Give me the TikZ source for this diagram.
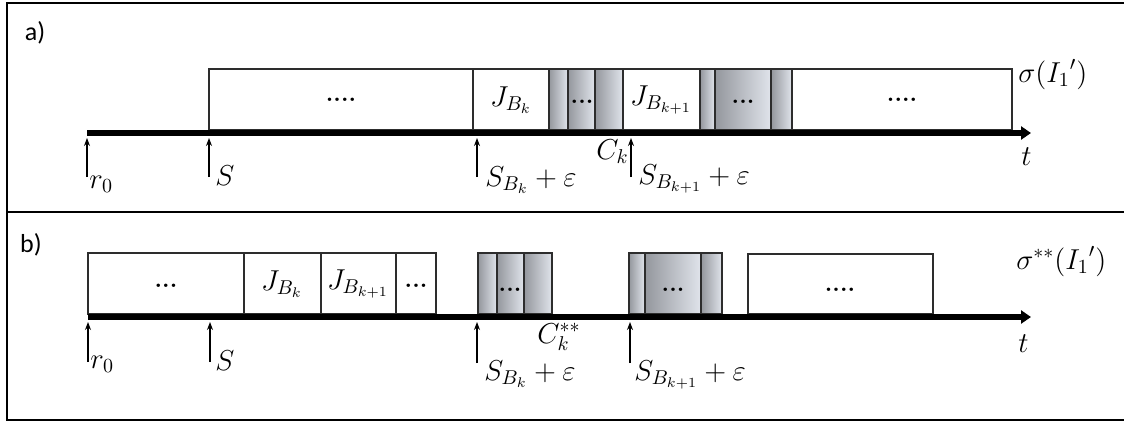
\documentclass[tikz,border=0pt]{standalone}
\usepackage{fontspec}
\newfontfamily\lblfont{Carlito}
\usetikzlibrary{arrows.meta}
\definecolor{shdark}{RGB}{148,151,157}
\definecolor{shlight}{RGB}{224,228,235}
\definecolor{edge}{RGB}{45,45,45}
\begin{document}
\begin{tikzpicture}[x=0.5pt,y=-0.5pt, font=\fontsize{14}{16}\selectfont,
  wbox/.style={draw=edge, line width=0.6pt, fill=white},
  gbox/.style={draw=edge, line width=0.6pt, left color=shdark, right color=shlight},
  timeaxis/.style={line width=3pt, -{Triangle[length=5pt,width=6.5pt]}},
  tickarrow/.style={line width=0.6pt, -{Stealth[length=4pt,width=3pt]}},
  lbl/.style={anchor=base west, inner sep=0pt},
  ctr/.style={inner sep=0pt},
  dots/.style={inner sep=0pt, font=\fontsize{12}{14}\selectfont},
  panel/.style={font=\lblfont\fontsize{13}{15}\selectfont, inner sep=0pt}]
\useasboundingbox (0,0) rectangle (1124,423);
\clip (0,0) rectangle (1124,423);
% frame
\draw[line width=1pt] (1130,3) -- (7,3) -- (7,420) -- (1130,420);
\draw[line width=0.9pt] (7,212) -- (1130,212);
\node[panel] (pa) at (35,33) {a)};
\node[panel] (pb) at (31,245) {b)};

% ---------------- panel a ----------------
\draw[wbox] (209,69) rectangle (473,130);
\node[dots] (a1) at (341,100) {\textbf{....}};
\draw[wbox] (473,69) rectangle (549,130);
\node[ctr] (a2) at (511,100) {$J_{B_k}$};
\draw[gbox] (549,69) rectangle (568,130);
\draw[gbox] (568,69) rectangle (595,130);
\node[dots] (a3) at (582,102) {\textbf{...}};
\draw[gbox] (595,69) rectangle (623,130);
\draw[wbox] (623,69) rectangle (700,130);
\node[ctr] (a4) at (661,100) {$J_{B_{k+1}}$};
\draw[gbox] (700,69) rectangle (715,130);
\draw[gbox] (715,69) rectangle (771,130);
\node[dots] (a5) at (743,102) {\textbf{...}};
\draw[gbox] (771,69) rectangle (792,130);
\draw[wbox] (792,69) rectangle (1012,130);
\node[dots] (a6) at (902,100) {\textbf{....}};

\coordinate (axa0) at (87,133);
\coordinate (axa1) at (1031,133);
\draw[timeaxis] (axa0) -- (axa1);

\coordinate (ra0) at (87,177);   \coordinate (ra1) at (87,138);
\coordinate (sa0) at (209,177);  \coordinate (sa1) at (209,138);
\coordinate (ba0) at (477,177);  \coordinate (ba1) at (477,138);
\coordinate (ca0) at (631,177);  \coordinate (ca1) at (631,138);
\draw[tickarrow] (ra0) -- (ra1);
\draw[tickarrow] (sa0) -- (sa1);
\draw[tickarrow] (ba0) -- (ba1);
\draw[tickarrow] (ca0) -- (ca1);

\node[lbl] (lra) at (89,188) {$r_0$};
\node[lbl] (lsa) at (215,185) {$S$};
\node[lbl] (lba) at (485,186) {$S_{B_k}+\varepsilon$};
\node[anchor=base east, inner sep=0pt] (lca) at (629,159) {$C_k$};
\node[lbl] (lda) at (638,184) {$S_{B_{k+1}}+\varepsilon$};
\node[lbl] (lta) at (1021,165) {$t$};
\node[lbl] (lga) at (1018,82) {$\sigma({I_1}')$};

% ---------------- panel b ----------------
\draw[wbox] (88,253) rectangle (244,314);
\node[dots] (b1) at (166,286) {\textbf{...}};
\draw[wbox] (244,253) rectangle (321,314);
\node[ctr] (b2) at (282,284) {$J_{B_k}$};
\draw[wbox] (321,253) rectangle (396,314);
\node[ctr] (b3) at (358,284) {$J_{B_{k+1}}$};
\draw[wbox] (396,253) rectangle (436,314);
\node[dots] (b4) at (416,286) {\textbf{...}};
\draw[gbox] (478,253) rectangle (497,314);
\draw[gbox] (497,253) rectangle (524,314);
\node[dots] (b5) at (510,290) {\textbf{...}};
\draw[gbox] (524,253) rectangle (552,314);
\draw[gbox] (629,253) rectangle (645,314);
\draw[gbox] (645,253) rectangle (701,314);
\node[dots] (b6) at (673,290) {\textbf{...}};
\draw[gbox] (701,253) rectangle (722,314);
\draw[wbox] (748,254) rectangle (933,314);
\node[dots] (b7) at (840,290) {\textbf{....}};

\coordinate (axb0) at (88,317);
\coordinate (axb1) at (1031,317);
\draw[timeaxis] (axb0) -- (axb1);

\coordinate (rb0) at (88,362);   \coordinate (rb1) at (88,322);
\coordinate (sb0) at (210,362);  \coordinate (sb1) at (210,322);
\coordinate (bb0) at (477,363);  \coordinate (bb1) at (477,322);
\coordinate (db0) at (630,363);  \coordinate (db1) at (630,322);
\draw[tickarrow] (rb0) -- (rb1);
\draw[tickarrow] (sb0) -- (sb1);
\draw[tickarrow] (bb0) -- (bb1);
\draw[tickarrow] (db0) -- (db1);

\node[lbl] (lrb) at (90,368) {$r_0$};
\node[lbl] (lsb) at (215,370) {$S$};
\node[lbl] (lbb) at (484,380) {$S_{B_k}+\varepsilon$};
\node[lbl] (lcb) at (537,343) {$C_k^{**}$};
\node[lbl] (ldb) at (634,380) {$S_{B_{k+1}}+\varepsilon$};
\node[lbl] (ltb) at (1018,352) {$t$};
\node[lbl] (lgb) at (1016,269) {$\sigma^{**}({I_1}')$};
\end{tikzpicture}
\end{document}
